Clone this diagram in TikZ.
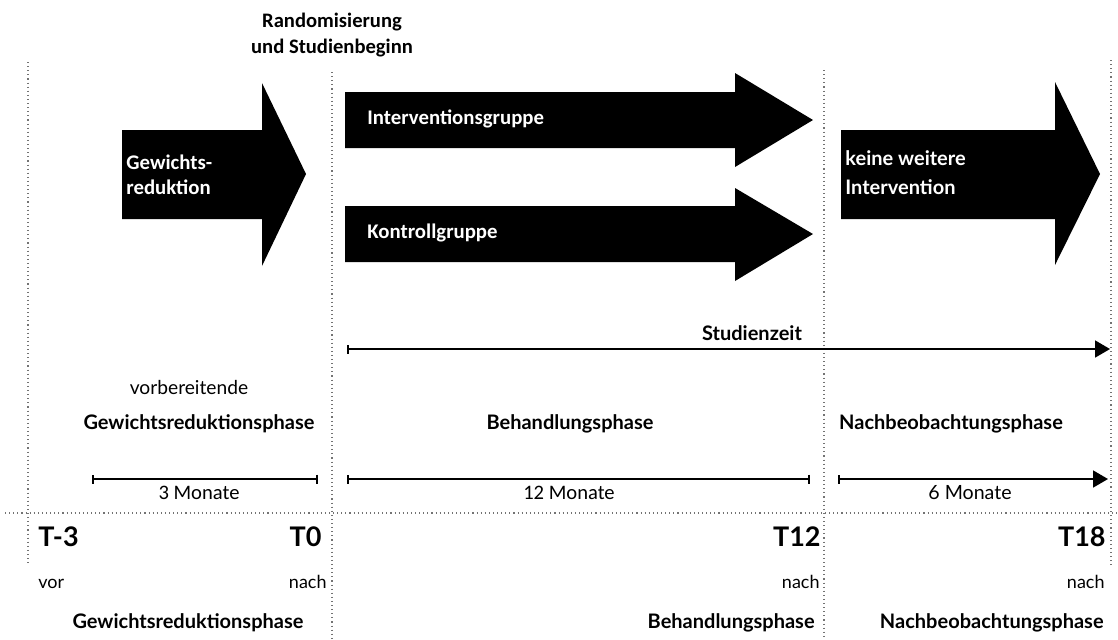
\documentclass[tikz,border=0pt]{standalone}
\usepackage{fontspec}
\setmainfont{Lato}
\newfontfamily\calibri{Carlito}
\usetikzlibrary{positioning,arrows.meta}

\begin{document}
\begin{tikzpicture}[x=0.5pt,y=-0.5pt,
    guide/.style={draw=black!55, line width=0.55pt, dash pattern=on 0.55pt off 1.5pt},
    blockarrow/.style={fill=black},
    inarrow/.style={text=white, anchor=west, align=left, inner sep=0pt, font=\calibri\bfseries\fontsize{10.4}{12.5}\selectfont},
    phase/.style={inner sep=0pt, font=\bfseries\fontsize{10}{12}\selectfont},
    small/.style={inner sep=0pt, font=\fontsize{9}{11}\selectfont},
    tpoint/.style={inner sep=0pt, font=\bfseries\fontsize{13.5}{16}\selectfont},
    months/.style={inner sep=0pt, font=\calibri\fontsize{10.3}{12}\selectfont},
    span/.style={line width=0.9pt, {Bar[width=4.5pt]}-{Bar[width=4.5pt]}},
    timeline/.style={line width=0.9pt, {Bar[width=4.5pt]}-{Triangle[length=7.5pt,width=8.5pt]}}]
    \useasboundingbox (0,0) rectangle (1118,639);

    % gepunktete Hilfslinien
    \draw[guide] (28,62) -- (28,565);
    \draw[guide] (332,72) -- (332,639);
    \draw[guide] (824,70) -- (824,639);
    \draw[guide] (1111,60) -- (1111,565);
    \draw[guide] (5,513) -- (1118,513);

    % Blockpfeile
    \fill[blockarrow] (122,130) -- (262,130) -- (262,83) -- (306,174) -- (262,266) -- (262,219) -- (122,219) -- cycle;
    \fill[blockarrow] (345,92) -- (735,92) -- (735,73) -- (813,120) -- (735,167) -- (735,148) -- (345,148) -- cycle;
    \fill[blockarrow] (345,206) -- (735,206) -- (735,188) -- (813,234) -- (735,281) -- (735,262) -- (345,262) -- cycle;
    \fill[blockarrow] (841,130) -- (1055,130) -- (1055,82) -- (1100,174) -- (1055,265) -- (1055,219) -- (841,219) -- cycle;

    \node[inarrow] (reduktion) at (126,175) {Gewichts-\\reduktion};
    \node[inarrow] (intervention) at (367,119) {Interventionsgruppe};
    \node[inarrow] (kontrolle) at (367,233) {Kontrollgruppe};
    \node[inarrow, font=\bfseries\fontsize{10}{14.5}\selectfont] (keine) at (845,173) {keine weitere\\Intervention};

    \node[align=center, inner sep=0pt, font=\calibri\bfseries\fontsize{10.3}{13}\selectfont] (random) at (332,35) {Randomisierung\\und Studienbeginn};

    % Studienzeit
    \coordinate (sz start) at (347,349);
    \coordinate (sz end) at (1110,349);
    \draw[timeline] (sz start) -- (sz end);
    \node[phase] (studienzeit) at (752,333) {Studienzeit};

    % Phasen
    \node[small, font=\fontsize{9.6}{11}\selectfont] (vorb) at (189,387) {vorbereitende};
    \node[phase] (gr phase) at (199,424) {Gewichtsreduktionsphase};
    \node[phase] (beh phase) at (570,424) {Behandlungsphase};
    \node[phase] (nach phase) at (951,424) {Nachbeobachtungsphase};

    % Dauer
    \coordinate (m3 a) at (92,479);
    \coordinate (m3 b) at (318,479);
    \coordinate (m12 a) at (347,479);
    \coordinate (m12 b) at (810,479);
    \coordinate (m6 a) at (838,479);
    \coordinate (m6 b) at (1108,479);
    \draw[span] (m3 a) -- (m3 b);
    \draw[span] (m12 a) -- (m12 b);
    \draw[timeline] (m6 a) -- (m6 b);
    \node[months] (m3) at (199,493) {3 Monate};
    \node[months] (m12) at (569,493) {12 Monate};
    \node[months, font=\fontsize{9.8}{12}\selectfont] (m6) at (970,493) {6 Monate};

    % Messzeitpunkte
    \node[tpoint, anchor=west] (tm3) at (38,537) {T-3};
    \node[tpoint, anchor=east] (t0) at (322,537) {T0};
    \node[tpoint, anchor=east] (t12) at (821,537) {T12};
    \node[tpoint, anchor=east] (t18) at (1106,537) {T18};

    \node[small, anchor=base west] (vor) at (38,588) {vor};
    \node[small, anchor=base east] (nach0) at (327,588) {nach};
    \node[small, anchor=base east] (nach12) at (820,588) {nach};
    \node[small, anchor=base east] (nach18) at (1105,588) {nach};

    \node[phase] (gr unten) at (188,623) {Gewichtsreduktionsphase};
    \node[phase, anchor=east] (beh unten) at (815,623) {Behandlungsphase};
    \node[phase, anchor=east] (nach unten) at (1104,623) {Nachbeobachtungsphase};
\end{tikzpicture}
\end{document}
